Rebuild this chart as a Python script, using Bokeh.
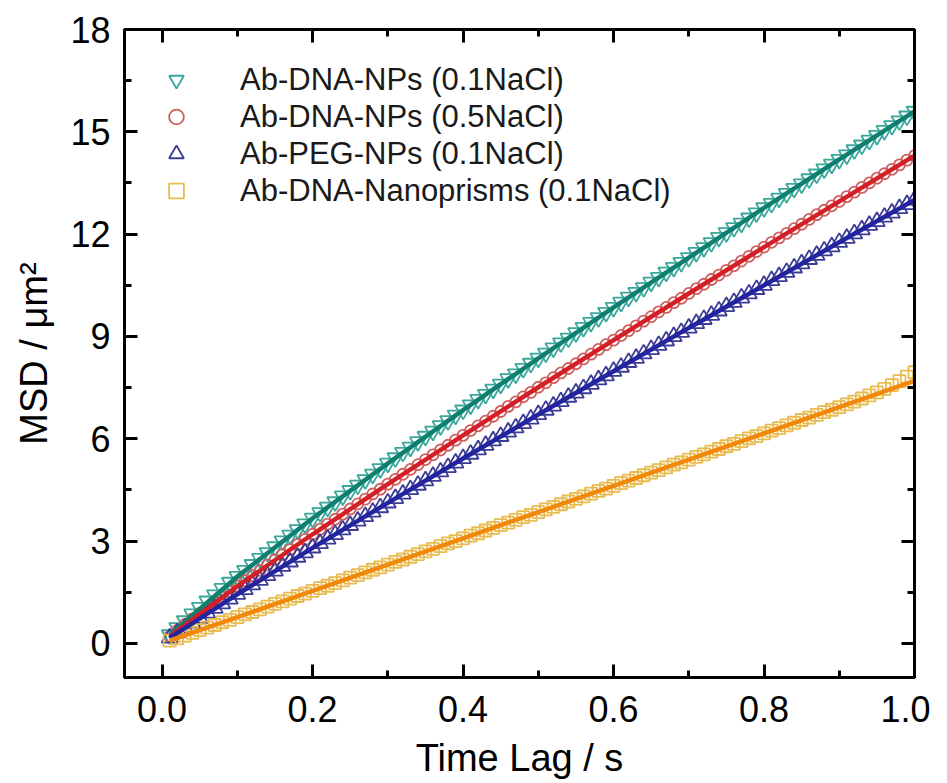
from bokeh.plotting import figure
from bokeh.models import (Range1d, FixedTicker, PrintfTickFormatter, LinearAxis,
                          Legend, LegendItem, CustomJSTickFormatter)
from bokeh.embed import file_html
from bokeh.resources import INLINE

# ---------------- data ----------------
time_lag = [0.01, 0.02, 0.03, 0.04, 0.05, 0.06, 0.07, 0.08, 0.09, 0.10,
            0.11, 0.12, 0.13, 0.14, 0.15, 0.16, 0.17, 0.18, 0.19, 0.20,
            0.21, 0.22, 0.23, 0.24, 0.25, 0.26, 0.27, 0.28, 0.29, 0.30,
            0.31, 0.32, 0.33, 0.34, 0.35, 0.36, 0.37, 0.38, 0.39, 0.40,
            0.41, 0.42, 0.43, 0.44, 0.45, 0.46, 0.47, 0.48, 0.49, 0.50,
            0.51, 0.52, 0.53, 0.54, 0.55, 0.56, 0.57, 0.58, 0.59, 0.60,
            0.61, 0.62, 0.63, 0.64, 0.65, 0.66, 0.67, 0.68, 0.69, 0.70,
            0.71, 0.72, 0.73, 0.74, 0.75, 0.76, 0.77, 0.78, 0.79, 0.80,
            0.81, 0.82, 0.83, 0.84, 0.85, 0.86, 0.87, 0.88, 0.89, 0.90,
            0.91, 0.92, 0.93, 0.94, 0.95, 0.96, 0.97, 0.98, 0.99, 1.00]

msd_dna_np_01 = [0.25, 0.46, 0.66, 0.86, 1.05, 1.24, 1.42, 1.61, 1.79, 1.96,
                 2.14, 2.31, 2.49, 2.66, 2.83, 3.00, 3.17, 3.33, 3.50, 3.67,
                 3.83, 3.99, 4.15, 4.32, 4.48, 4.64, 4.80, 4.96, 5.12, 5.28,
                 5.44, 5.60, 5.75, 5.91, 6.07, 6.22, 6.38, 6.53, 6.69, 6.84,
                 6.99, 7.15, 7.30, 7.45, 7.60, 7.76, 7.90, 8.06, 8.21, 8.36,
                 8.51, 8.66, 8.81, 8.95, 9.11, 9.26, 9.41, 9.55, 9.70, 9.85,
                 10.00, 10.15, 10.29, 10.43, 10.59, 10.73, 10.88, 11.02, 11.17, 11.31,
                 11.46, 11.60, 11.75, 11.90, 12.04, 12.19, 12.32, 12.47, 12.62, 12.77,
                 12.90, 13.05, 13.19, 13.34, 13.47, 13.62, 13.76, 13.91, 14.05, 14.19,
                 14.32, 14.47, 14.61, 14.75, 14.89, 15.04, 15.18, 15.32, 15.46, 15.60]

msd_dna_np_05 = [0.20, 0.38, 0.55, 0.72, 0.88, 1.05, 1.21, 1.36, 1.52, 1.68,
                 1.84, 1.99, 2.14, 2.30, 2.45, 2.60, 2.75, 2.90, 3.05, 3.20,
                 3.35, 3.50, 3.64, 3.79, 3.94, 4.09, 4.23, 4.38, 4.52, 4.67,
                 4.81, 4.96, 5.10, 5.24, 5.39, 5.53, 5.67, 5.81, 5.96, 6.10,
                 6.24, 6.38, 6.52, 6.66, 6.80, 6.95, 7.08, 7.23, 7.36, 7.51,
                 7.64, 7.79, 7.93, 8.06, 8.20, 8.34, 8.48, 8.62, 8.76, 8.89,
                 9.03, 9.17, 9.31, 9.45, 9.58, 9.72, 9.85, 9.99, 10.12, 10.26,
                 10.40, 10.53, 10.67, 10.80, 10.94, 11.07, 11.21, 11.35, 11.49, 11.62,
                 11.76, 11.89, 12.02, 12.16, 12.29, 12.43, 12.57, 12.70, 12.83, 12.96,
                 13.10, 13.23, 13.37, 13.50, 13.64, 13.77, 13.90, 14.03, 14.17, 14.30]

msd_peg_np_01 = [0.16, 0.31, 0.46, 0.60, 0.74, 0.89, 1.03, 1.16, 1.30, 1.44,
                 1.58, 1.72, 1.85, 1.99, 2.12, 2.26, 2.39, 2.53, 2.66, 2.80,
                 2.93, 3.06, 3.19, 3.33, 3.46, 3.59, 3.72, 3.85, 3.98, 4.12,
                 4.25, 4.38, 4.51, 4.64, 4.77, 4.90, 5.03, 5.16, 5.29, 5.42,
                 5.55, 5.68, 5.81, 5.94, 6.07, 6.20, 6.32, 6.45, 6.58, 6.71,
                 6.84, 6.96, 7.09, 7.22, 7.34, 7.47, 7.60, 7.73, 7.85, 7.98,
                 8.10, 8.24, 8.36, 8.49, 8.62, 8.74, 8.87, 9.00, 9.12, 9.25,
                 9.38, 9.50, 9.62, 9.75, 9.88, 10.00, 10.13, 10.25, 10.38, 10.50,
                 10.64, 10.76, 10.88, 11.01, 11.13, 11.26, 11.38, 11.51, 11.63, 11.76,
                 11.88, 12.01, 12.13, 12.26, 12.37, 12.50, 12.62, 12.75, 12.87, 13.00]

msd_dna_prism_01 = [0.08, 0.15, 0.23, 0.31, 0.39, 0.46, 0.54, 0.62, 0.69, 0.77,
                    0.85, 0.92, 1.00, 1.08, 1.16, 1.23, 1.31, 1.39, 1.46, 1.54,
                    1.62, 1.69, 1.77, 1.85, 1.93, 2.00, 2.08, 2.16, 2.23, 2.31,
                    2.39, 2.46, 2.54, 2.62, 2.70, 2.77, 2.85, 2.93, 3.00, 3.08,
                    3.16, 3.23, 3.31, 3.39, 3.47, 3.54, 3.62, 3.70, 3.77, 3.85,
                    3.93, 4.00, 4.08, 4.16, 4.24, 4.31, 4.39, 4.47, 4.54, 4.62,
                    4.70, 4.77, 4.85, 4.93, 5.01, 5.08, 5.16, 5.24, 5.31, 5.39,
                    5.47, 5.54, 5.62, 5.70, 5.78, 5.85, 5.93, 6.01, 6.08, 6.16,
                    6.24, 6.31, 6.39, 6.47, 6.55, 6.62, 6.70, 6.78, 6.85, 6.93,
                    7.01, 7.09, 7.18, 7.27, 7.36, 7.46, 7.57, 7.69, 7.82, 7.95]

fit_time = [0.01, 0.10, 0.20, 0.30, 0.40, 0.50, 0.60, 0.70, 0.80, 0.90, 1.00]
fit_dna_np_01 = [0.25, 1.96, 3.67, 5.28, 6.84, 8.36, 9.85, 11.31, 12.77, 14.19, 15.60]
fit_dna_np_05 = [0.20, 1.68, 3.20, 4.67, 6.10, 7.51, 8.89, 10.26, 11.62, 12.96, 14.30]
fit_peg_np_01 = [0.16, 1.44, 2.80, 4.12, 5.42, 6.71, 7.98, 9.25, 10.50, 11.76, 13.00]
fit_dna_prism_01 = [0.08, 0.77, 1.54, 2.31, 3.08, 3.85, 4.62, 5.39, 6.16, 6.93, 7.70]

series_labels = ["Ab-DNA-NPs (0.1NaCl)", "Ab-DNA-NPs (0.5NaCl)",
                 "Ab-PEG-NPs (0.1NaCl)", "Ab-DNA-Nanoprisms (0.1NaCl)"]

x_major = [0.0, 0.2, 0.4, 0.6, 0.8, 1.0]
x_minor = [0.1, 0.3, 0.5, 0.7, 0.9]
y_major = [0, 3, 6, 9, 12, 15, 18]
y_minor = [1.5, 4.5, 7.5, 10.5, 13.5, 16.5]

FONT = "Liberation Sans"

# ---------------- figure ----------------
p = figure(frame_width=790, frame_height=648,
           x_range=Range1d(-0.05, 1.0), y_range=Range1d(-1, 18),
           output_backend="svg", toolbar_location=None,
           min_border_left=124, min_border_right=16,
           min_border_top=29, min_border_bottom=104)
p.background_fill_color = "white"
p.border_fill_color = "white"
p.outline_line_color = "black"
p.outline_line_width = 3
p.xgrid.visible = False
p.ygrid.visible = False

markers = [
    (msd_dna_np_01, "inverted_triangle", "#3aa89c", 16),
    (msd_dna_np_05, "circle", "#cf5f5f", 11),
    (msd_peg_np_01, "triangle", "#3c3c96", 16),
    (msd_dna_prism_01, "square", "#e8bc50", 12),
]
fits = [
    (fit_dna_np_01, "#0f7f70"),
    (fit_dna_np_05, "#d41f26"),
    (fit_peg_np_01, "#2424a0"),
    (fit_dna_prism_01, "#f0880a"),
]

marker_renderers = []
for vals, mk, col, sz in markers:
    r = p.scatter(time_lag, vals, marker=mk, size=sz, fill_color=None,
                  line_color=col, line_width=1.8)
    marker_renderers.append(r)

for vals, col in fits:
    p.line(fit_time, vals, line_color=col, line_width=4.5)

# ---------------- axes ----------------
x_axis = p.below[0]
y_axis = p.left[0]
x_axis.ticker = FixedTicker(ticks=x_major, minor_ticks=x_minor)
y_axis.ticker = FixedTicker(ticks=y_major, minor_ticks=y_minor)
x_axis.formatter = PrintfTickFormatter(format="%.1f")
y_axis.formatter = PrintfTickFormatter(format="%d")
x_axis.axis_label = "Time Lag / s"
y_axis.axis_label = "MSD / μm²"

top_axis = LinearAxis(ticker=FixedTicker(ticks=x_major, minor_ticks=x_minor),
                      formatter=CustomJSTickFormatter(code="return ''"))
right_axis = LinearAxis(ticker=FixedTicker(ticks=y_major, minor_ticks=y_minor),
                        formatter=CustomJSTickFormatter(code="return ''"))
p.add_layout(top_axis, "above")
p.add_layout(right_axis, "right")

for ax in [x_axis, y_axis, top_axis, right_axis]:
    ax.axis_line_width = 3
    ax.axis_line_color = "black"
    ax.major_tick_line_width = 3
    ax.minor_tick_line_width = 3
    ax.major_tick_line_color = "black"
    ax.minor_tick_line_color = "black"
    ax.major_tick_in = 13
    ax.major_tick_out = 0
    ax.minor_tick_in = 7
    ax.minor_tick_out = 0
    ax.major_label_text_font = FONT
    ax.major_label_text_font_size = "36px"
    ax.major_label_text_color = "black"
    ax.axis_label_text_font = FONT
    ax.axis_label_text_font_size = "38px"
    ax.axis_label_text_font_style = "normal"
    ax.axis_label_text_color = "black"

for ax in [top_axis, right_axis]:
    ax.major_label_text_font_size = "0px"
    ax.major_label_standoff = 0

x_axis.major_label_standoff = 18
x_axis.axis_label_standoff = 12
y_axis.major_label_standoff = 14
y_axis.axis_label_standoff = 12

# ---------------- legend ----------------
legend = Legend(items=[LegendItem(label=lab, renderers=[r])
                       for lab, r in zip(series_labels, marker_renderers)],
                location="top_left")
legend.margin = 20
legend.padding = 12
legend.spacing = 0
legend.glyph_width = 40
legend.glyph_height = 37
legend.label_height = 37
legend.label_standoff = 44
legend.label_text_font = FONT
legend.label_text_font_size = "31px"
legend.label_text_color = "#1a1a1a"
legend.border_line_alpha = 0
legend.background_fill_alpha = 0
p.add_layout(legend)

open("out.html", "w").write(file_html(p, INLINE))
